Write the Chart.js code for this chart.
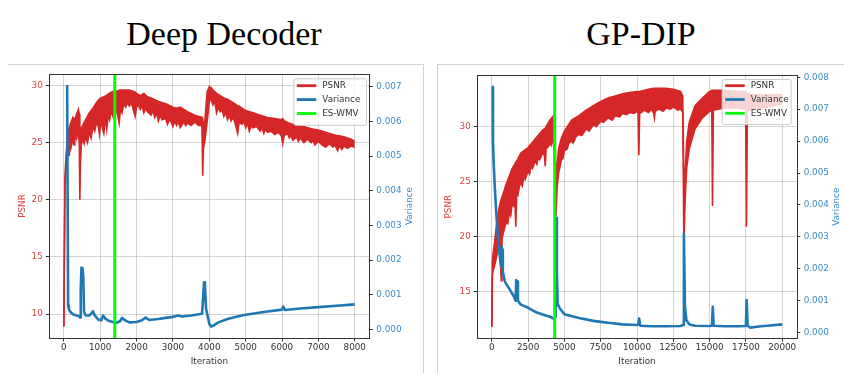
<!DOCTYPE html>
<html><head><meta charset="utf-8">
<script src="https://cdn.jsdelivr.net/npm/chart.js@4.4.0/dist/chart.umd.min.js"></script>
<style>
html,body{margin:0;padding:0;background:#fff;}
body{width:844px;height:373px;position:relative;overflow:hidden;}
.title{position:absolute;font-family:"Liberation Serif","Times New Roman",serif;font-size:34px;line-height:34px;color:#000;text-align:center;white-space:nowrap;}
.frame{position:absolute;border:0 solid #d3d3d3;}
canvas{position:absolute;}
</style></head><body>
<div class="title" style="left:104px;width:240px;top:16.5px">Deep Decoder</div>
<div class="title" style="left:521px;width:240px;top:16.5px">GP-DIP</div>
<div class="frame" style="left:8px;top:64px;width:415px;height:320px;border-top-width:1px;border-right-width:1px;"></div>
<div class="frame" style="left:437px;top:64px;width:420px;height:320px;border-top-width:1px;border-left-width:1px;"></div>
<canvas id="c1" width="422" height="313" style="left:0px;top:60px"></canvas>
<canvas id="c2" width="406" height="313" style="left:438px;top:60px"></canvas>
<script>
// ---------------- Deep Decoder ----------------
const ddHighIter = [0,30,60,100,150,200,250,300,350,400,425,440,455,480,520,600,700,800,900,980,1020,1100,1200,1300,1400,1480,1520,1600,1700,1800,1900,1960,2000,2100,2200,2300,2400,2600,2800,3000,3100,3200,3400,3600,3800,3812,3825,3838,3880,3940,4000,4050,4100,4200,4300,4400,4500,4600,4700,4780,4820,4900,5000,5200,5400,5600,5800,5980,6020,6060,6200,6400,6600,6800,7000,7200,7400,7530,7570,7700,7900,8000];
const ddPsnrHigh = [8.9,22.0,23.8,25.5,26.3,26.8,27.2,27.0,27.5,27.9,27.5,26.0,25.5,26.3,26.5,27.0,27.6,28.0,28.5,28.8,28.9,29.0,29.2,29.4,29.5,29.5,29.6,29.6,29.6,29.6,29.5,29.4,29.3,29.1,29.3,29.0,28.9,28.6,28.4,28.1,28.0,28.1,27.7,27.4,27.2,26.6,25.0,26.5,27.0,29.4,29.9,29.8,29.6,29.3,29.1,28.9,28.8,28.6,28.4,28.2,28.2,28.0,27.8,27.6,27.4,27.2,27.1,27.0,27.1,26.9,26.7,26.5,26.4,26.2,26.1,25.9,25.7,25.6,25.6,25.5,25.3,25.1];
const ddLowIter = [0,30,60,100,150,180,200,250,280,300,350,380,400,425,440,455,480,520,560,600,650,700,750,800,850,900,950,980,1020,1060,1100,1150,1180,1220,1260,1300,1350,1400,1450,1480,1520,1560,1600,1650,1700,1750,1800,1850,1900,1960,2000,2050,2100,2150,2200,2250,2300,2400,2450,2500,2550,2600,2650,2700,2800,2850,2900,2950,3000,3050,3100,3150,3200,3300,3350,3400,3500,3600,3700,3800,3812,3825,3838,3880,3940,4000,4050,4100,4150,4200,4250,4300,4350,4400,4450,4500,4550,4600,4650,4700,4780,4820,4900,4950,5000,5050,5100,5150,5200,5300,5400,5450,5500,5550,5600,5700,5800,5900,5980,6020,6060,6150,6200,6250,6300,6400,6450,6500,6600,6700,6800,6850,6900,7000,7100,7200,7300,7400,7450,7530,7570,7650,7700,7800,7900,8000];
const ddPsnrLow = [8.9,21.0,22.8,23.8,23.9,25.2,24.6,25.3,24.8,25.6,25.3,26.0,25.8,25.0,20.0,23.0,24.8,25.4,24.9,25.5,25.0,25.9,25.4,26.4,26.0,26.8,26.4,25.7,26.9,26.3,25.8,27.2,26.2,27.4,27.0,27.8,27.3,28.1,27.7,27.4,26.7,28.0,27.6,28.4,28.1,28.5,28.2,28.5,28.0,27.3,28.1,28.3,27.9,28.2,27.6,28.0,27.7,27.4,27.8,27.2,27.6,26.9,27.4,27.0,27.1,26.6,27.0,26.8,26.4,26.9,26.5,26.8,26.3,26.8,26.5,26.7,26.5,26.8,26.5,26.5,24.5,22.1,24.5,25.2,26.8,28.6,28.8,28.3,28.6,27.6,28.1,27.7,27.9,27.3,27.6,27.0,27.4,26.9,27.2,26.8,25.8,26.8,26.6,26.9,26.3,26.7,26.0,26.5,26.3,26.4,26.0,26.3,25.8,26.2,25.9,26.0,25.7,25.9,25.6,24.9,25.6,25.8,25.4,25.6,25.2,25.5,25.1,25.4,25.0,25.3,25.0,25.2,24.8,25.1,24.8,24.6,24.9,24.6,24.8,24.3,24.7,24.4,24.7,24.5,24.7,24.6];
const ddVarIter = [90,118,140,170,220,280,350,420,445,465,485,515,535,555,600,700,760,800,850,950,1030,1080,1150,1250,1350,1450,1550,1600,1700,1800,2000,2150,2250,2350,2600,2800,3000,3150,3250,3500,3800,3830,3855,3880,3910,3950,4000,4050,4100,4250,4500,4800,5000,5500,6000,6030,6080,6500,7000,7500,8000];
const ddVar = [0.00705,0.00069,0.00058,0.00052,0.00046,0.00042,0.00040,0.00038,0.00034,0.0012,0.00178,0.00176,0.0015,0.0005,0.00040,0.00040,0.00046,0.00052,0.00040,0.00028,0.00026,0.00040,0.00030,0.00024,0.00021,0.00019,0.00024,0.00033,0.00025,0.00020,0.00021,0.00026,0.00034,0.00027,0.00030,0.00033,0.00036,0.00040,0.00037,0.00040,0.00045,0.0009,0.00136,0.00128,0.0006,0.00040,0.00016,0.00008,0.00010,0.00020,0.00030,0.00038,0.00042,0.00050,0.00057,0.00066,0.00056,0.00060,0.00064,0.00068,0.00072];
const ddStop = 1400;
const ddIterTicks = [0,1000,2000,3000,4000,5000,6000,7000,8000];
const ddPsnrTicks = [10,15,20,25,30];
const ddVarTicks = [0,0.001,0.002,0.003,0.004,0.005,0.006,0.007];

// ---------------- GP-DIP ----------------
const gpHighIter = [0,40,100,200,300,400,500,600,650,700,800,1000,1200,1400,1580,1650,1720,2000,2500,3000,3500,3620,3680,3740,4000,4250,4350,4420,4500,4600,4800,5000,5500,6000,6500,7000,7500,8000,8500,9000,9500,10000,10080,10130,10180,10800,11150,11200,11250,11500,12000,12500,13000,13150,13230,13320,13420,13600,14000,14500,15000,15150,15200,15260,16000,17000,17480,17540,17600,18000,19000,20000];
const gpPsnrHigh = [11.8,17.8,18.6,19.6,20.8,21.8,22.6,23.2,23.4,23.6,24.0,24.8,25.5,26.2,26.6,26.8,26.9,27.6,28.1,28.9,29.7,29.8,29.8,30.0,30.6,31.0,30.2,24.5,26.5,28.0,29.0,29.6,30.6,31.0,31.5,31.9,32.3,32.6,32.8,33.0,33.1,33.2,33.2,33.1,33.2,33.4,33.5,33.5,33.5,33.5,33.5,33.4,33.2,32.8,25.0,25.9,28.6,30.4,31.9,32.6,33.2,33.3,32.5,33.3,33.3,33.2,33.2,32.5,33.0,32.9,32.9,32.9];
const gpLowIter = [0,40,100,200,300,400,500,600,650,700,800,900,1000,1100,1200,1300,1400,1500,1580,1650,1720,1800,1900,2000,2100,2200,2300,2500,2600,2700,2800,3000,3100,3200,3300,3500,3620,3680,3740,3900,4000,4100,4250,4350,4420,4500,4600,4700,4800,4900,5000,5200,5300,5500,5600,5800,6000,6200,6500,6700,7000,7200,7500,7700,8000,8300,8500,8800,9000,9300,9500,9800,10000,10080,10130,10180,10500,10800,11000,11150,11200,11250,11500,11800,12000,12300,12500,12800,13000,13150,13230,13320,13420,13600,14000,14500,15000,15150,15200,15260,16000,17000,17480,17540,17600,18000,19000,20000];
const gpPsnrLow = [11.8,16.5,17.0,17.4,18.0,18.6,19.2,17.5,16.0,19.8,20.4,20.9,21.3,21.2,22.2,21.9,23.0,22.8,23.6,20.9,24.0,23.8,24.6,24.9,24.6,25.4,25.2,26.0,25.7,26.4,26.2,26.9,26.6,27.2,27.0,27.6,27.4,26.4,28.0,28.2,28.5,28.3,28.9,25.5,21.9,24.5,25.8,26.4,27.0,27.1,27.8,28.0,28.5,28.7,28.5,29.1,29.3,29.2,29.8,29.6,30.2,30.0,30.5,30.4,30.8,30.6,31.0,30.9,31.2,31.1,31.3,31.2,31.4,31.2,27.4,31.2,31.5,31.3,31.6,31.2,30.8,31.4,31.6,31.4,31.7,31.6,31.8,31.5,31.6,31.3,19.5,23.5,26.2,28.0,29.8,30.8,31.4,31.5,22.8,31.5,31.7,31.7,31.6,20.9,31.4,31.6,31.8,32.1];
const gpVarIter = [60,80,120,200,300,400,500,600,640,680,720,760,900,1100,1300,1500,1640,1680,1740,1800,2000,2500,3000,3500,4000,4320,4400,4440,4480,4530,4700,5000,6000,7000,7500,8000,9000,10000,10100,10150,10220,11000,12000,13000,13170,13230,13300,13400,13600,14000,15000,15160,15220,15280,16000,17000,17500,17550,17620,17800,18500,19000,20000];
const gpVar = [0.0077,0.0060,0.0054,0.0046,0.0038,0.0031,0.0026,0.0022,0.0021,0.0027,0.0026,0.0019,0.0016,0.00145,0.0013,0.00115,0.0010,0.00165,0.0016,0.0010,0.00088,0.00078,0.00065,0.00057,0.0005,0.00043,0.0005,0.0036,0.0020,0.0009,0.00075,0.00058,0.00046,0.00037,0.00034,0.00031,0.00026,0.00024,0.00026,0.00044,0.00022,0.00020,0.00020,0.00021,0.00024,0.0031,0.00085,0.00040,0.00026,0.00022,0.00021,0.00022,0.00081,0.00022,0.00020,0.00020,0.00021,0.00102,0.00022,0.00016,0.00020,0.00022,0.00026];
const gpStop = 4330;
const gpIterTicks = [0,2500,5000,7500,10000,12500,15000,17500,20000];
const gpPsnrTicks = [15,20,25,30];
const gpVarTicks = [0,0.001,0.002,0.003,0.004,0.005,0.006,0.007,0.008];

const legendLabels = ['PSNR','Variance','ES-WMV'];

// ---------------- drawing ----------------
const RED = '#d62728', BLUE = '#1f77b4', GREEN = '#00ff00', DARK = '#333333';
const RED_TXT = '#dc4446', BLUE_TXT = '#3a8cc6';
const FONT = "'DejaVu Sans', sans-serif";
const FS = 8.8;
const GRID = 'rgba(0,0,0,0.17)';

function pts(xs, ys) { return xs.map((x, i) => ({x: x, y: ys[i]})); }

const decor = {
  id: 'decor',
  afterDatasetsDraw(chart, args, o) {
    const c = chart.ctx, a = chart.chartArea;
    c.save();
    c.strokeStyle = DARK; c.lineWidth = 1;
    c.strokeRect(Math.round(a.left) + 0.5, Math.round(a.top) + 0.5, Math.round(a.right) - Math.round(a.left), Math.round(a.bottom) - Math.round(a.top));
    c.restore();
  },
  afterDraw(chart, args, o) {
    const c = chart.ctx, a = chart.chartArea;
    c.save();
    c.font = FS + 'px ' + FONT;
    c.textBaseline = 'middle'; c.textAlign = 'center';
    const midY = (a.top + a.bottom) / 2;
    c.save(); c.translate(a.left - o.leftTitle, midY); c.rotate(-Math.PI / 2);
    c.fillStyle = RED_TXT; c.fillText('PSNR', 0, 0); c.restore();
    c.save(); c.translate(a.right + o.rightTitle, midY); c.rotate(-Math.PI / 2);
    c.fillStyle = BLUE_TXT; c.fillText('Variance', 0, 0); c.restore();
    c.fillStyle = DARK; c.fillText('Iteration', (a.left + a.right) / 2, a.bottom + o.bottomTitle);
    const bx = a.right - o.lgRight - o.lgW, by = a.top + o.lgTop;
    c.beginPath();
    if (c.roundRect) c.roundRect(bx + 0.5, by + 0.5, o.lgW, o.lgH, 2); else c.rect(bx + 0.5, by + 0.5, o.lgW, o.lgH);
    c.fillStyle = 'rgba(255,255,255,0.8)'; c.fill();
    c.strokeStyle = '#cccccc'; c.lineWidth = 1; c.stroke();
    const cols = [RED, BLUE, GREEN];
    c.textAlign = 'left';
    legendLabels.forEach((lab, i) => {
      const y = by + o.lgRow0 + i * o.lgRowH;
      c.strokeStyle = cols[i]; c.lineWidth = 2.8; c.lineCap = 'butt';
      c.beginPath(); c.moveTo(bx + 3.5, y); c.lineTo(bx + 23, y); c.stroke();
      c.fillStyle = DARK; c.fillText(lab, bx + 29, y + 0.5);
    });
    c.restore();
  }
};

function build(id, d, L) {
  const setTicks = (arr) => (s) => { s.ticks = arr.map(v => ({value: v})); };
  return new Chart(document.getElementById(id), {
    type: 'line',
    data: {datasets: [
      {label: 'ES-WMV', data: [{x: d.stop, y: L.yMin}, {x: d.stop, y: L.yMax}], borderColor: GREEN, borderWidth: 3, pointRadius: 0, yAxisID: 'y', order: 0, clip: 0},
      {label: 'Variance', data: pts(d.varIter, d.v), borderColor: BLUE, borderWidth: 2.6, pointRadius: 0, yAxisID: 'y2', order: 1, borderJoinStyle: 'round'},
      {label: 'PSNR', data: pts(d.hiIter, d.hi), borderColor: RED, borderWidth: 1.6, pointRadius: 0, yAxisID: 'y', order: 2, fill: false},
      {label: 'PSNR', data: pts(d.loIter, d.lo), borderColor: RED, backgroundColor: RED, borderWidth: 1.6, pointRadius: 0, yAxisID: 'y', order: 3, fill: '-1'}
    ]},
    options: {
      responsive: false, animation: false, events: [],
      layout: {padding: {top: L.padTop, left: 0, right: 0, bottom: 0}},
      plugins: {legend: {display: false}, tooltip: {enabled: false}, decor: L.decor},
      scales: {
        x: {type: 'linear', min: L.xMin, max: L.xMax,
            afterBuildTicks: setTicks(d.xTicks), afterFit: s => { s.height = L.xH; },
            ticks: {autoSkip: false, maxRotation: 0, padding: 1, color: DARK, font: {family: FONT, size: FS}, callback: v => String(v)},
            grid: {color: GRID, lineWidth: 1, tickColor: DARK, tickLength: 3.5}, border: {display: false}},
        y: {type: 'linear', position: 'left', min: L.yMin, max: L.yMax,
            afterBuildTicks: setTicks(d.yTicks), afterFit: s => { s.width = L.yW; },
            ticks: {padding: 3, color: RED_TXT, font: {family: FONT, size: FS}, callback: v => String(v)},
            grid: {color: GRID, lineWidth: 1, tickColor: DARK, tickLength: 3.5}, border: {display: false}},
        y2: {type: 'linear', position: 'right', min: L.y2Min, max: L.y2Max,
            afterBuildTicks: setTicks(d.y2Ticks), afterFit: s => { s.width = L.y2W; },
            ticks: {padding: 3.5, color: BLUE_TXT, font: {family: FONT, size: FS}, callback: v => Number(v).toFixed(3)},
            grid: {drawOnChartArea: false, tickColor: DARK, tickLength: 3.5}, border: {display: false}}
      }
    },
    plugins: [decor]
  });
}

build('c1',
  {hiIter: ddHighIter, hi: ddPsnrHigh, loIter: ddLowIter, lo: ddPsnrLow, varIter: ddVarIter, v: ddVar, stop: ddStop, xTicks: ddIterTicks, yTicks: ddPsnrTicks, y2Ticks: ddVarTicks},
  {padTop: 14, xH: 35, yW: 49.3, y2W: 52.7, xMin: -400, xMax: 8400, yMin: 7.9, yMax: 31.0, y2Min: -0.00025, y2Max: 0.00737,
   decor: {leftTitle: 26.3, rightTitle: 40.7, bottomTitle: 24, lgRight: 3.3, lgW: 72.7, lgTop: 4.3, lgH: 46.5, lgRow0: 7.4, lgRowH: 13.9}});

build('c2',
  {hiIter: gpHighIter, hi: gpPsnrHigh, loIter: gpLowIter, lo: gpPsnrLow, varIter: gpVarIter, v: gpVar, stop: gpStop, xTicks: gpIterTicks, yTicks: gpPsnrTicks, y2Ticks: gpVarTicks},
  {padTop: 15, xH: 34.7, yW: 39.3, y2W: 47.3, xMin: -1000, xMax: 21000, yMin: 10.76, yMax: 34.7, y2Min: -0.000175, y2Max: 0.00807,
   decor: {leftTitle: 28.3, rightTitle: 40.3, bottomTitle: 23, lgRight: 6, lgW: 69, lgTop: 4, lgH: 45, lgRow0: 6.7, lgRowH: 13.8}});
</script>
</body></html>
